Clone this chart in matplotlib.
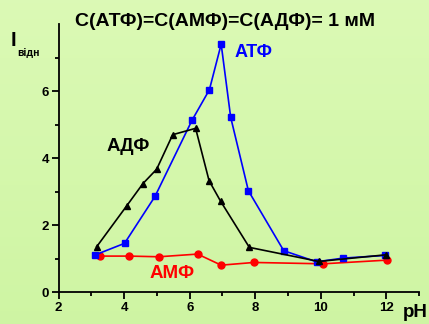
import matplotlib.pyplot as plt
import numpy as np

plt.rcParams['font.family'] = ['Liberation Sans', 'DejaVu Sans']
plt.rcParams['font.weight'] = 'bold'

# pH values and relative intensities
ph_atp = [3.10, 4.01, 4.94, 6.07, 6.60, 6.96, 7.25, 7.79, 8.87, 9.87, 10.69, 11.97]
i_atp = [1.11, 1.46, 2.86, 5.13, 6.04, 7.40, 5.22, 3.03, 1.24, 0.91, 1.02, 1.10]

ph_adp = [3.16, 4.07, 4.57, 4.99, 5.48, 6.18, 6.59, 6.94, 7.82, 9.94, 12.00]
i_adp = [1.36, 2.57, 3.24, 3.67, 4.70, 4.89, 3.33, 2.72, 1.34, 0.92, 1.12]

ph_amp = [3.27, 4.16, 5.06, 6.24, 6.96, 7.96, 10.07, 12.02]
i_amp = [1.08, 1.08, 1.06, 1.14, 0.81, 0.89, 0.85, 0.96]

fig = plt.figure(figsize=(4.29, 3.24), dpi=100)

# soft green background
bg = fig.add_axes([0, 0, 1, 1], zorder=-1)
grad = np.linspace(0, 1, 100).reshape(-1, 1)
top = np.array([0.86, 0.98, 0.71])
bot = np.array([0.81, 0.96, 0.64])
img = top * (1 - grad[..., None]) + bot * grad[..., None]
bg.imshow(img, aspect='auto', extent=[0, 1, 0, 1])
bg.axis('off')

ax = fig.add_axes([0.1368, 0.0978, 0.840, 0.828])
ax.patch.set_alpha(0)

ax.plot(ph_amp, i_amp, '-o', color='#ff0000', ms=5, lw=1.2, zorder=2)
ax.plot(ph_atp, i_atp, '-s', color='#0000ff', ms=4.2, lw=1.2, zorder=3)
ax.plot(ph_adp, i_adp, '-^', color='black', ms=5, lw=1.2, zorder=4)

ax.set_xlim(2, 13)
ax.set_ylim(0, 8)
ax.set_xticks([2, 4, 6, 8, 10, 12])
ax.set_xticks([3, 5, 7, 9, 11, 13], minor=True)
ax.set_yticks([0, 2, 4, 6])
ax.set_yticks([1, 3, 5, 7], minor=True)
for s in ['top', 'right']:
    ax.spines[s].set_visible(False)
for s in ['left', 'bottom']:
    ax.spines[s].set_linewidth(1.3)
ax.tick_params(which='major', length=5, width=1.3, labelsize=9.5, pad=2)
ax.tick_params(which='minor', length=3, width=1.3)

ax.text(7.37, 7.14, 'АТФ', color='#0000ff', fontsize=13, fontweight='bold', va='center')
ax.text(3.45, 4.35, 'АДФ', color='black', fontsize=13.5, fontweight='bold', va='center')
ax.text(4.77, 0.57, 'АМФ', color='#ff0000', fontsize=13.5, fontweight='bold', va='center')

fig.text(0.525, 0.935, 'C(АТФ)=C(АМФ)=C(АДФ)= 1 мМ', ha='center', va='center',
         fontsize=14, fontweight='bold')
fig.text(0.025, 0.875, 'I', fontsize=14.5, fontweight='bold', va='center')
fig.text(0.04, 0.835, 'відн', fontsize=7.5, fontweight='bold', va='center')
fig.text(0.996, 0.008, 'pH', fontsize=13.5, fontweight='bold', ha='right', va='bottom')

fig.savefig('out.png', dpi=100)
